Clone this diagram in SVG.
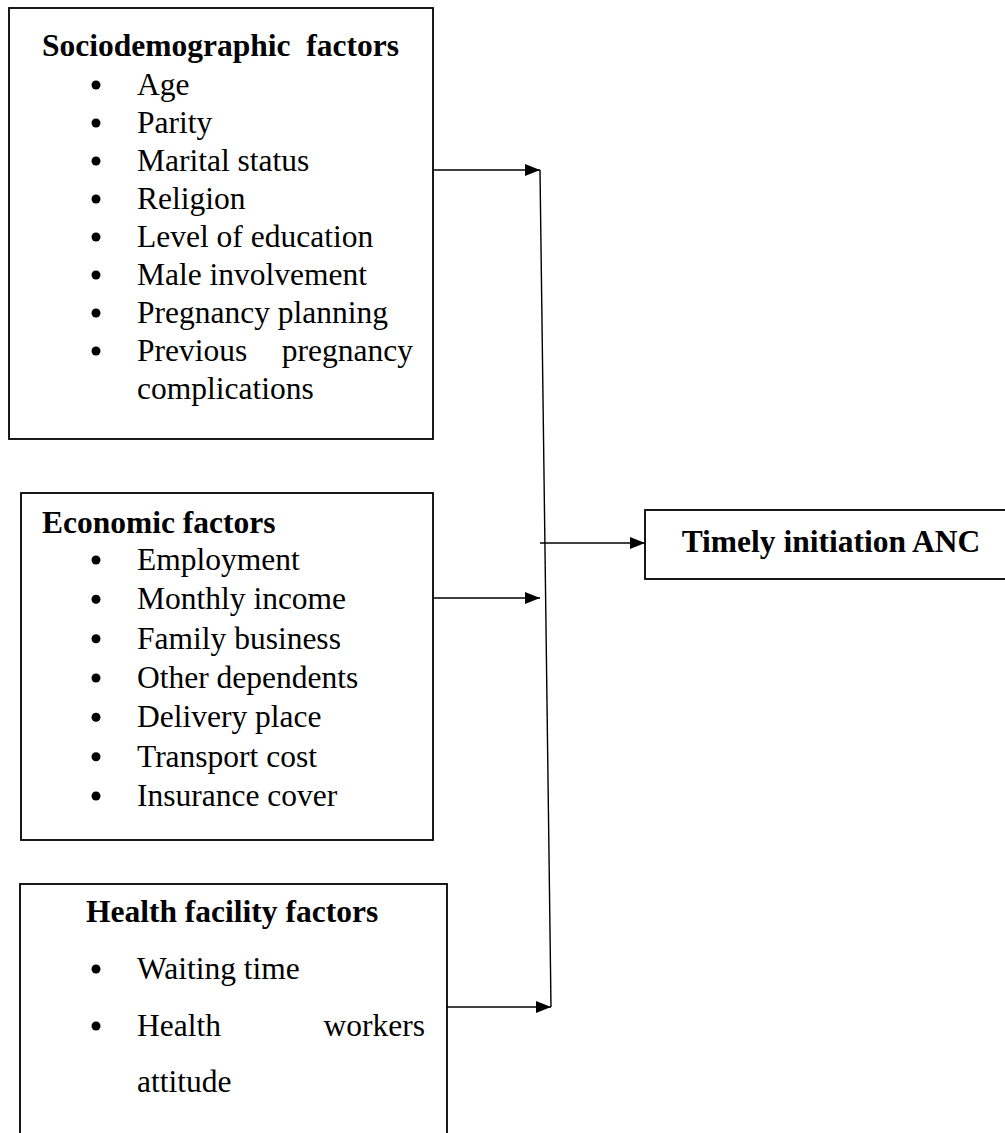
<svg xmlns="http://www.w3.org/2000/svg" width="1005" height="1133" viewBox="0 0 1005 1133">
<defs>
<style>
.box{fill:#fff;stroke:#000;stroke-width:1.8}
.t{font-family:"Liberation Serif","Times New Roman",serif;font-size:31.5px;fill:#000}
.h{font-family:"Liberation Serif","Times New Roman",serif;font-size:31.5px;font-weight:bold;fill:#000}
.b{fill:#000}
.c{stroke:#000;stroke-width:1.4;fill:none}
</style>
<marker id="ah" markerWidth="15" markerHeight="12" refX="15" refY="6" orient="auto" markerUnits="userSpaceOnUse">
<path d="M0,0 L15,6 L0,12 z" fill="#000"/>
</marker>
</defs>
<rect width="1005" height="1133" fill="#fff"/>
<g id="socio">
<rect class="box" x="9" y="8" width="424" height="431"/>
<text class="h" x="42" y="56" xml:space="preserve">Sociodemographic  factors</text>
<g class="b"><circle cx="96" cy="85" r="4.5"/><circle cx="96" cy="123" r="4.5"/><circle cx="96" cy="161" r="4.5"/><circle cx="96" cy="199" r="4.5"/><circle cx="96" cy="237" r="4.5"/><circle cx="96" cy="275" r="4.5"/><circle cx="96" cy="313" r="4.5"/><circle cx="96" cy="351" r="4.5"/></g>
<text class="t" x="137" y="95">Age</text>
<text class="t" x="137" y="133">Parity</text>
<text class="t" x="137" y="171">Marital status</text>
<text class="t" x="137" y="209">Religion</text>
<text class="t" x="137" y="247">Level of education</text>
<text class="t" x="137" y="285">Male involvement</text>
<text class="t" x="137" y="323">Pregnancy planning</text>
<text class="t" x="137" y="361">Previous</text>
<text class="t" x="413" y="361" text-anchor="end">pregnancy</text>
<text class="t" x="137" y="399">complications</text>
</g>
<g id="economic">
<rect class="box" x="21" y="493" width="412" height="347"/>
<text class="h" x="42" y="533">Economic factors</text>
<g class="b"><circle cx="96" cy="560" r="4.5"/><circle cx="96" cy="599.3" r="4.5"/><circle cx="96" cy="638.7" r="4.5"/><circle cx="96" cy="678" r="4.5"/><circle cx="96" cy="717.3" r="4.5"/><circle cx="96" cy="756.7" r="4.5"/><circle cx="96" cy="796" r="4.5"/></g>
<text class="t" x="137" y="570">Employment</text>
<text class="t" x="137" y="609.3">Monthly income</text>
<text class="t" x="137" y="648.7">Family business</text>
<text class="t" x="137" y="688">Other dependents</text>
<text class="t" x="137" y="727.3">Delivery place</text>
<text class="t" x="137" y="766.7">Transport cost</text>
<text class="t" x="137" y="806">Insurance cover</text>
</g>
<g id="health">
<rect class="box" x="20" y="884" width="427" height="260"/>
<text class="h" x="86" y="922">Health facility factors</text>
<g class="b"><circle cx="96" cy="969" r="4.5"/><circle cx="96" cy="1026" r="4.5"/></g>
<text class="t" x="137" y="979">Waiting time</text>
<text class="t" x="137" y="1036">Health</text>
<text class="t" x="425" y="1036" text-anchor="end">workers</text>
<text class="t" x="137" y="1092">attitude</text>
</g>
<g id="outcome">
<rect class="box" x="645" y="510" width="370" height="69"/>
<text class="h" x="831" y="552" text-anchor="middle">Timely initiation ANC</text>
</g>
<g id="connectors">
<line class="c" x1="433" y1="170" x2="540" y2="170" marker-end="url(#ah)"/>
<line class="c" x1="540" y1="170" x2="551" y2="1007"/>
<line class="c" x1="433" y1="598" x2="540" y2="598" marker-end="url(#ah)"/>
<line class="c" x1="447" y1="1007" x2="551" y2="1007" marker-end="url(#ah)"/>
<line class="c" x1="540" y1="543" x2="645" y2="543" marker-end="url(#ah)"/>
</g>
</svg>
